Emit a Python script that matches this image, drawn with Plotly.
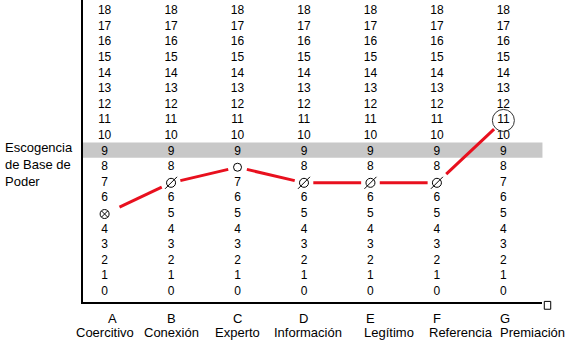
import plotly.graph_objects as go

letters = ["A", "B", "C", "D", "E", "F", "G"]
names = ["Coercitivo", "Conexión", "Experto", "Información", "Legítimo", "Referencia", "Premiación"]
scale = list(range(0, 19))
values = [5, 7, 8, 7, 7, 7, 11]
marks = ["otimes", "slash", "circle", "slash", "slash", "slash", "ring"]
highlight_level = 9
axis_title = "Escogencia<br>de Base de<br>Poder"

FONT = "Liberation Sans, Arial, sans-serif"
xs = list(range(len(letters)))

fig = go.Figure()

# highlighted band
fig.add_shape(type="rect", xref="paper", x0=0, x1=1.001, yref="y",
              y0=highlight_level - 0.4, y1=highlight_level + 0.58,
              fillcolor="#c8c8c8", line_width=0, layer="below")

# number columns
for i, v in enumerate(values):
    ys = [s for s in scale if s != v or marks[i] == "ring"]
    fig.add_trace(go.Scatter(
        x=[xs[i]] * len(ys), y=ys, text=[str(s) for s in ys], mode="text",
        textfont=dict(family=FONT, size=12, color="black"),
        hoverinfo="skip", showlegend=False, cliponaxis=False))

# red profile line, with small gaps near the marks
shrink = 0.14
seg_x, seg_y = [], []
for i in range(len(values) - 1):
    x0, x1 = xs[i], xs[i + 1]
    y0, y1 = values[i], values[i + 1]
    s0 = shrink * (1.6 if marks[i] == "otimes" else 1.0)
    seg_x += [x0 + s0, x1 - shrink, None]
    seg_y += [y0 + s0 * (y1 - y0), y1 - shrink * (y1 - y0), None]
fig.add_trace(go.Scatter(x=seg_x, y=seg_y, mode="lines",
                         line=dict(color="#e8101e", width=3),
                         hoverinfo="skip", showlegend=False))

def pts(kind):
    px = [xs[i] for i, m in enumerate(marks) if m == kind]
    py = [values[i] for i, m in enumerate(marks) if m == kind]
    return px, py

px, py = pts("otimes")
fig.add_trace(go.Scatter(x=px, y=py, mode="markers", showlegend=False, hoverinfo="skip",
                         marker=dict(symbol="circle-x-open", size=9, color="black",
                                     line=dict(width=1, color="black"))))
px, py = pts("slash")
fig.add_trace(go.Scatter(x=px, y=py, mode="markers", showlegend=False, hoverinfo="skip",
                         marker=dict(symbol="circle-open", size=9, color="black",
                                     line=dict(width=1, color="black"))))
fig.add_trace(go.Scatter(x=px, y=py, mode="markers", showlegend=False, hoverinfo="skip",
                         marker=dict(symbol="line-ne-open", size=12, color="black",
                                     line=dict(width=1, color="black"))))
px, py = pts("circle")
fig.add_trace(go.Scatter(x=px, y=py, mode="markers", showlegend=False, hoverinfo="skip",
                         marker=dict(symbol="circle-open", size=8, color="black",
                                     line=dict(width=1, color="black"))))
px, py = pts("ring")
fig.add_trace(go.Scatter(x=px, y=py, mode="markers", showlegend=False, hoverinfo="skip",
                         cliponaxis=False,
                         marker=dict(symbol="circle-open", size=22, color="#333333",
                                     line=dict(width=1, color="#333333"))))

# bottom labels (right-hand names spill to the right, as in the original table)
LABEL_SIZE = 13
name_left_shift = {4: -8, 5: -10, 6: -5}
for i in xs:
    fig.add_annotation(x=xs[i], xref="x", y=0, yref="paper", yanchor="middle",
                       yshift=-16, xshift=(8 if i == 0 else 2 if i == 6 else 0),
                       text=letters[i], showarrow=False,
                       font=dict(family=FONT, size=LABEL_SIZE, color="black"))
    if i in name_left_shift:
        fig.add_annotation(x=xs[i], xref="x", xanchor="left", xshift=name_left_shift[i],
                           y=0, yref="paper", yanchor="middle", yshift=-30,
                           text=names[i], showarrow=False,
                           font=dict(family=FONT, size=LABEL_SIZE, color="black"))
    else:
        fig.add_annotation(x=xs[i], xref="x", y=0, yref="paper", yanchor="middle",
                           yshift=-30, xshift=(4 if i == 3 else 0),
                           text=names[i], showarrow=False,
                           font=dict(family=FONT, size=LABEL_SIZE, color="black"))

# left title
fig.add_annotation(x=-0.1743, xref="paper", xanchor="left", y=8.2, yref="y",
                   yanchor="middle", text=axis_title, showarrow=False, align="left",
                   font=dict(family=FONT, size=13, color="black"))

# little square at axis end
fig.add_shape(type="rect", xref="paper", yref="paper",
              x0=1.005, x1=1.019, y0=-0.024, y1=0.002,
              line=dict(color="black", width=1), fillcolor="white")

fig.update_layout(
    width=574, height=344,
    margin=dict(l=83, r=32, t=0, b=42),
    paper_bgcolor="white", plot_bgcolor="white",
    xaxis=dict(range=[-0.325, 6.581], showgrid=False, zeroline=False,
               showline=True, linecolor="black", linewidth=2,
               showticklabels=False, ticks="", fixedrange=True),
    yaxis=dict(range=[-0.64, 18.72], showgrid=False, zeroline=False,
               showline=True, linecolor="black", linewidth=2,
               showticklabels=False, ticks="", fixedrange=True),
)

fig.write_html("out.html")
